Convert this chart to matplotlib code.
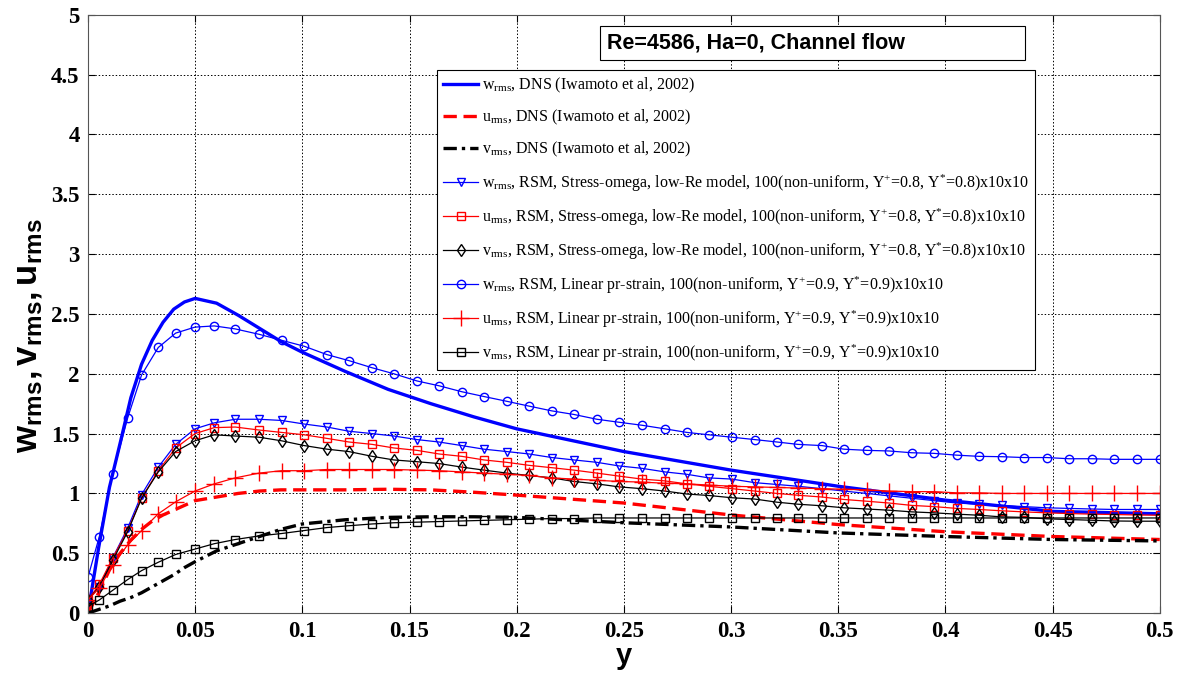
import numpy as np
import matplotlib
matplotlib.use("Agg")
import matplotlib.pyplot as plt
from matplotlib.patches import Rectangle
from matplotlib.ticker import FormatStrFormatter

# Times-like text; mathtext rm -> Times (legend), bf -> Arial bold (y label)
plt.rcParams['font.family'] = 'Liberation Serif'
plt.rcParams['mathtext.fontset'] = 'custom'
plt.rcParams['mathtext.rm'] = 'Liberation Serif'
plt.rcParams['mathtext.it'] = 'Liberation Serif:italic'
plt.rcParams['mathtext.bf'] = 'Liberation Sans:bold'

# RSM grid nodes (non-uniform, 100 cells across channel -> half shown)
y_rsm = [0.0, 0.0053, 0.0115, 0.0185, 0.025, 0.0328, 0.0409, 0.0499, 0.0589, 0.0687,
         0.0798, 0.0903, 0.1009, 0.1115, 0.1217, 0.1326, 0.1427,
         0.1535, 0.1637, 0.1744, 0.1847, 0.1954, 0.2057, 0.2164, 0.2267, 0.2374,
         0.2477, 0.2584, 0.2691, 0.2794, 0.2896, 0.3004, 0.3111, 0.3214, 0.3312,
         0.3424, 0.3526, 0.3633, 0.3736, 0.3843, 0.3946, 0.4053, 0.4156, 0.4263,
         0.4366, 0.4473, 0.4576, 0.4683, 0.4786, 0.4893, 0.5]

# Stress-omega, low-Re model
w_so = [0.11, 0.22, 0.46, 0.71, 0.99, 1.22, 1.41, 1.54, 1.59, 1.62, 1.62, 1.61, 1.58, 1.555, 1.52, 1.50, 1.48,
        1.45, 1.43, 1.40, 1.37, 1.35, 1.33, 1.30, 1.28, 1.26, 1.23, 1.21, 1.18, 1.16, 1.13, 1.12, 1.09, 1.075, 1.06,
        1.04, 1.02, 1.00, 0.98, 0.96, 0.94, 0.92, 0.91, 0.90, 0.89, 0.88, 0.875, 0.87, 0.866, 0.866, 0.866]
u_so = [0.11, 0.24, 0.46, 0.69, 0.96, 1.19, 1.38, 1.50, 1.55, 1.555, 1.53, 1.51, 1.49, 1.46, 1.43, 1.41, 1.38,
        1.36, 1.33, 1.31, 1.28, 1.26, 1.235, 1.215, 1.195, 1.17, 1.145, 1.12, 1.105, 1.08, 1.06, 1.04, 1.02, 1.0, 0.985,
        0.97, 0.95, 0.935, 0.92, 0.90, 0.89, 0.875, 0.866, 0.855, 0.846, 0.838, 0.832, 0.827, 0.824, 0.82, 0.818]
v_so = [0.11, 0.22, 0.44, 0.68, 0.96, 1.18, 1.35, 1.44, 1.49, 1.48, 1.47, 1.44, 1.40, 1.37, 1.35, 1.31, 1.28,
        1.265, 1.25, 1.22, 1.195, 1.17, 1.15, 1.13, 1.10, 1.08, 1.055, 1.04, 1.02, 0.995, 0.983, 0.964, 0.953, 0.927, 0.91,
        0.897, 0.88, 0.87, 0.86, 0.846, 0.838, 0.827, 0.818, 0.804, 0.80, 0.788, 0.782, 0.776, 0.77, 0.768, 0.768]

# Linear pressure-strain
w_lps = [0.30, 0.64, 1.16, 1.63, 1.99, 2.22, 2.34, 2.39, 2.40, 2.375, 2.33, 2.28, 2.23, 2.16, 2.11, 2.05, 2.00,
         1.94, 1.90, 1.85, 1.81, 1.77, 1.73, 1.69, 1.66, 1.62, 1.595, 1.57, 1.54, 1.51, 1.49, 1.47, 1.45, 1.43, 1.41,
         1.40, 1.37, 1.36, 1.355, 1.34, 1.335, 1.32, 1.31, 1.307, 1.30, 1.30, 1.29, 1.29, 1.285, 1.285, 1.285]
u_lps = [0.11, 0.21, 0.40, 0.57, 0.69, 0.83, 0.93, 1.02, 1.08, 1.13, 1.17, 1.19, 1.19, 1.20, 1.20, 1.20, 1.20,
         1.195, 1.19, 1.18, 1.17, 1.16, 1.15, 1.13, 1.12, 1.11, 1.10, 1.095, 1.085, 1.08, 1.07, 1.06, 1.055, 1.05, 1.045,
         1.04, 1.035, 1.03, 1.02, 1.015, 1.015, 1.005, 1.005, 1.0, 1.0, 1.0, 1.0, 1.0, 1.0, 1.0, 1.0]
v_lps = [0.055, 0.11, 0.19, 0.28, 0.355, 0.425, 0.49, 0.535, 0.58, 0.615, 0.645, 0.665, 0.69, 0.715, 0.73, 0.745, 0.755,
         0.76, 0.765, 0.77, 0.775, 0.78, 0.785, 0.79, 0.79, 0.795, 0.795, 0.795, 0.795, 0.795, 0.795, 0.795, 0.795, 0.795, 0.795,
         0.795, 0.795, 0.795, 0.795, 0.795, 0.795, 0.795, 0.795, 0.795, 0.795, 0.795, 0.795, 0.795, 0.795, 0.795, 0.795]

# DNS (Iwamoto et al, 2002)
y_dns = [0, 0.005, 0.01, 0.015, 0.02, 0.025, 0.03, 0.035, 0.04, 0.045, 0.05, 0.06, 0.07, 0.08, 0.09,
         0.1, 0.12, 0.14, 0.16, 0.18, 0.2, 0.25, 0.3, 0.35, 0.4, 0.45, 0.5]
w_dns = [0, 0.55, 1.05, 1.42, 1.80, 2.08, 2.28, 2.43, 2.54, 2.60, 2.63, 2.59, 2.49, 2.38, 2.27,
         2.18, 2.02, 1.87, 1.75, 1.64, 1.54, 1.35, 1.195, 1.06, 0.944, 0.85, 0.83]
u_dns = [0, 0.17, 0.36, 0.50, 0.61, 0.70, 0.77, 0.82, 0.86, 0.90, 0.94, 0.97, 1.0, 1.02, 1.03,
         1.03, 1.03, 1.035, 1.03, 1.01, 0.986, 0.92, 0.82, 0.74, 0.68, 0.64, 0.615]
v_dns = [0, 0.03, 0.06, 0.10, 0.13, 0.17, 0.22, 0.27, 0.32, 0.38, 0.43, 0.52, 0.58, 0.64, 0.70,
         0.745, 0.78, 0.80, 0.805, 0.805, 0.80, 0.755, 0.72, 0.67, 0.64, 0.615, 0.603]

rms = r'$_{\mathrm{rms}}$'
tail_so = r', RSM, Stress-omega, low-Re model, 100(non-uniform, Y$^{+}$=0.8, Y$^{*}$=0.8)x10x10'
tail_lps = r', RSM, Linear pr-strain, 100(non-uniform, Y$^{+}$=0.9, Y$^{*}$=0.9)x10x10'
dns_txt = ', DNS (Iwamoto et al, 2002)'

fig = plt.figure(figsize=(11.81, 6.73), dpi=100)
ax = fig.add_axes([0.0745, 0.089, 0.9075, 0.889])

ax.plot(y_dns, w_dns, '-', color='blue', lw=2.4, label='w' + rms + dns_txt)
ax.plot(y_dns, u_dns, '--', color='red', lw=2.4, dashes=(4, 2), label='u' + rms + dns_txt)
ax.plot(y_dns, v_dns, '-.', color='black', lw=2.4, dashes=(4, 1.5, 1, 1.5), label='v' + rms + dns_txt)

mk = dict(lw=0.9, markersize=6, markerfacecolor='none', markeredgewidth=1.0)
ax.plot(y_rsm, w_so, '-v', color='blue', label='w' + rms + tail_so, **mk)
ax.plot(y_rsm, u_so, '-s', color='red', label='u' + rms + tail_so, **mk)
ax.plot(y_rsm, v_so, '-d', color='black', label='v' + rms + tail_so, **mk)
ax.plot(y_rsm, w_lps, '-o', color='blue', label='w' + rms + tail_lps, **mk)
ax.plot(y_rsm, u_lps, '-+', color='red', lw=0.9, markersize=12, markeredgewidth=1.0,
        label='u' + rms + tail_lps)
ax.plot(y_rsm, v_lps, '-s', color='black', label='v' + rms + tail_lps, **mk)

ax.set_xlim(0, 0.5)
ax.set_ylim(0, 5)
ax.set_xticks(np.arange(0, 0.501, 0.05))
ax.set_yticks(np.arange(0, 5.01, 0.5))
ax.xaxis.set_major_formatter(FormatStrFormatter('%g'))
ax.yaxis.set_major_formatter(FormatStrFormatter('%g'))
ax.tick_params(direction='in', length=5, width=0.8, top=True, right=True, pad=6)
for lab in ax.get_xticklabels() + ax.get_yticklabels():
    lab.set_fontfamily('Liberation Serif')
    lab.set_fontweight('bold')
    lab.set_fontsize(16.5)
ax.grid(True, linestyle=(0, (1.5, 2)), color='black', linewidth=0.7)
for s in ax.spines.values():
    s.set_linewidth(0.8)
    s.set_color('#555555')

ax.set_xlabel('y', fontfamily='Liberation Sans', fontweight='bold', fontsize=21, labelpad=0)
ax.set_ylabel(r'$\mathbf{w_{rms}, v_{rms}, u_{rms}}$', fontsize=25)
ax.yaxis.set_label_coords(-0.04, 0.463)

# title box
ax.add_patch(Rectangle((0.4776, 0.9247), 0.3964, 0.0569, transform=ax.transAxes,
                       facecolor='white', edgecolor='black', lw=0.8, zorder=5))
ax.text(0.4846, 0.953, 'Re=4586, Ha=0, Channel flow', transform=ax.transAxes,
        fontfamily='Liberation Sans', fontweight='bold', fontsize=15.5, va='center', ha='left', zorder=6)

leg = ax.legend(loc='upper left', bbox_to_anchor=(0.3256, 0.908), borderaxespad=0,
                prop={'family': 'Liberation Serif', 'size': 11.5},
                handlelength=2.2, handletextpad=0.2, labelspacing=0.8, borderpad=0.4,
                fancybox=False, framealpha=1, edgecolor='black')
leg.get_frame().set_linewidth(0.8)

fig.savefig('out.png', dpi=100)
